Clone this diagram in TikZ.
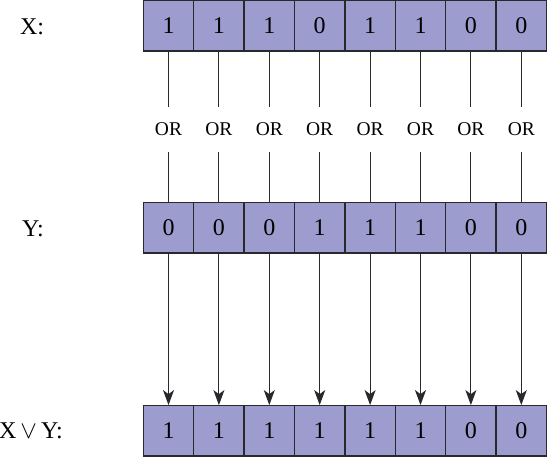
\documentclass[tikz,border=0pt]{standalone}
\usepackage{fontspec}
\setmainfont{Liberation Serif}
\usetikzlibrary{arrows.meta}
\definecolor{CellBlue}{RGB}{156,156,206}
\definecolor{EdgeGray}{RGB}{40,40,45}

\tikzset{
  bit/.style={draw=EdgeGray, fill=CellBlue, line width=1.4pt, minimum width=50.4pt, minimum height=50.4pt, inner sep=0pt, font=\fontsize{24}{28}\selectfont},
  lbl/.style={font=\fontsize{24}{28}\selectfont, inner sep=0pt},
  orop/.style={minimum height=45pt, inner sep=0pt, font=\fontsize{19.5}{22}\selectfont},
  wire/.style={draw=EdgeGray, line width=1.1pt},
  arr/.style={wire, -{Stealth[length=15pt, width=11pt, inset=4pt]}}
}

\begin{document}
\begin{tikzpicture}[x=1pt, y=-1pt]
        \useasboundingbox (0,0) rectangle (547,457);

        % row labels
        \node[lbl] (lx) at (32,27) {X:};
        \node[lbl] (ly) at (33,229) {Y:};
        \node[lbl] (lz) at (31,431) {X\,$\vee$\,Y:};

        % X row
        \node[bit] (x1) at (168.5,26) {1};
        \node[bit] (x2) at (218.9,26) {1};
        \node[bit] (x3) at (269.3,26) {1};
        \node[bit] (x4) at (319.7,26) {0};
        \node[bit] (x5) at (370.1,26) {1};
        \node[bit] (x6) at (420.5,26) {1};
        \node[bit] (x7) at (470.9,26) {0};
        \node[bit] (x8) at (521.3,26) {0};

        % OR operators
        \node[orop] (o1) at (168.5,129.5) {OR};
        \node[orop] (o2) at (218.9,129.5) {OR};
        \node[orop] (o3) at (269.3,129.5) {OR};
        \node[orop] (o4) at (319.7,129.5) {OR};
        \node[orop] (o5) at (370.1,129.5) {OR};
        \node[orop] (o6) at (420.5,129.5) {OR};
        \node[orop] (o7) at (470.9,129.5) {OR};
        \node[orop] (o8) at (521.3,129.5) {OR};

        % Y row
        \node[bit] (y1) at (168.5,228) {0};
        \node[bit] (y2) at (218.9,228) {0};
        \node[bit] (y3) at (269.3,228) {0};
        \node[bit] (y4) at (319.7,228) {1};
        \node[bit] (y5) at (370.1,228) {1};
        \node[bit] (y6) at (420.5,228) {1};
        \node[bit] (y7) at (470.9,228) {0};
        \node[bit] (y8) at (521.3,228) {0};

        % result row
        \node[bit] (z1) at (168.5,431) {1};
        \node[bit] (z2) at (218.9,431) {1};
        \node[bit] (z3) at (269.3,431) {1};
        \node[bit] (z4) at (319.7,431) {1};
        \node[bit] (z5) at (370.1,431) {1};
        \node[bit] (z6) at (420.5,431) {1};
        \node[bit] (z7) at (470.9,431) {0};
        \node[bit] (z8) at (521.3,431) {0};

        % X to OR to Y
        \draw[wire] (x1) -- (o1) -- (y1);
        \draw[wire] (x2) -- (o2) -- (y2);
        \draw[wire] (x3) -- (o3) -- (y3);
        \draw[wire] (x4) -- (o4) -- (y4);
        \draw[wire] (x5) -- (o5) -- (y5);
        \draw[wire] (x6) -- (o6) -- (y6);
        \draw[wire] (x7) -- (o7) -- (y7);
        \draw[wire] (x8) -- (o8) -- (y8);

        % Y to result
        \draw[arr] (y1) -- (z1);
        \draw[arr] (y2) -- (z2);
        \draw[arr] (y3) -- (z3);
        \draw[arr] (y4) -- (z4);
        \draw[arr] (y5) -- (z5);
        \draw[arr] (y6) -- (z6);
        \draw[arr] (y7) -- (z7);
        \draw[arr] (y8) -- (z8);

    \end{tikzpicture}
\end{document}
